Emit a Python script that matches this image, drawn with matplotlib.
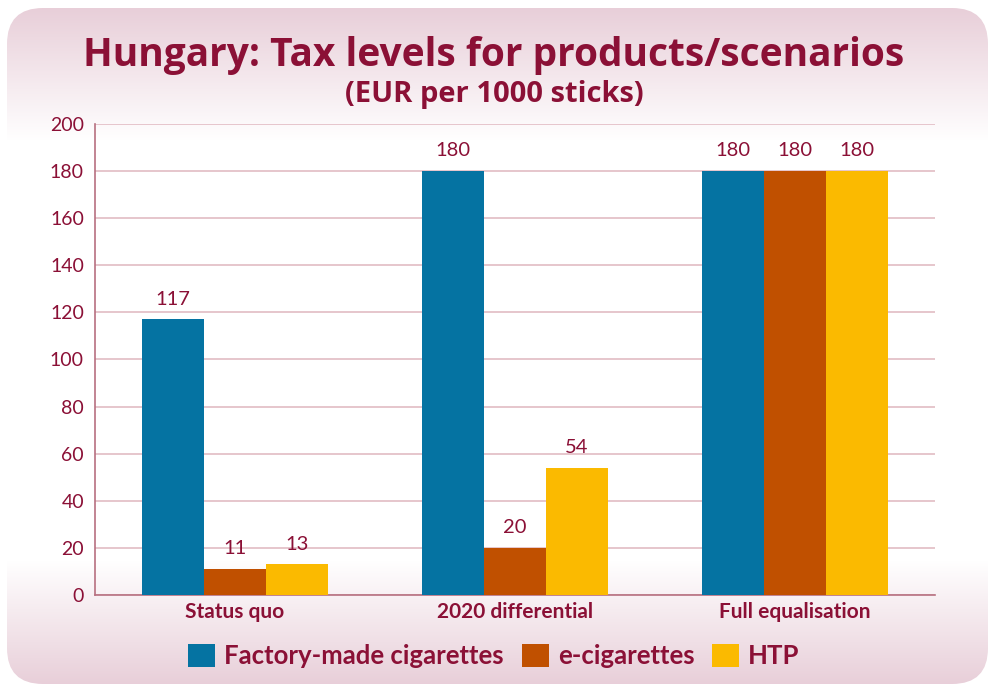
import numpy as np
import matplotlib.pyplot as plt
from matplotlib.patches import FancyBboxPatch, Patch

plt.rcParams['font.family'] = ['Lato', 'DejaVu Sans']

categories = ['Status quo', '2020 differential', 'Full equalisation']
series = ['Factory-made cigarettes', 'e-cigarettes', 'HTP']
fmc = [117, 180, 180]
ecig = [11, 20, 180]
htp = [13, 54, 180]
yticks = [0, 20, 40, 60, 80, 100, 120, 140, 160, 180, 200]

colors = ['#0573A2', '#C05000', '#FBBA00']
txt = '#8B1036'

fig = plt.figure(figsize=(9.88, 6.84), dpi=100)

# rounded background panel, pink at top and bottom, white in the middle
bg = fig.add_axes([0, 0, 1, 1], zorder=-10)
bg.set_xlim(0, 988)
bg.set_ylim(684, 0)
bg.axis('off')
s = np.arange(684)
p = np.maximum(np.clip((140 - s) / 132, 0, 1), np.clip((s - 560) / 124, 0, 1))
c_edge = np.array([0.91, 0.81, 0.85])
img = 1 + (c_edge - 1)[None, :] * p[:, None]
img = np.repeat(img[:, None, :], 2, axis=1)
im = bg.imshow(img, extent=[0, 988, 684, 0], origin='upper', aspect='auto')
panel = FancyBboxPatch((7, 8), 981, 676, boxstyle='round,pad=0,rounding_size=36',
                       transform=bg.transData, facecolor='none', edgecolor='none')
bg.add_patch(panel)
im.set_clip_path(panel)

ax = fig.add_axes([0.0962, 0.130, 0.850, 0.689])
ax.set_facecolor('none')
x = np.arange(len(categories))
w = 0.221
for i, (vals, col) in enumerate(zip([fmc, ecig, htp], colors)):
    pos = x + (i - 1) * w
    ax.bar(pos, vals, w, color=col, zorder=3)
    for px, v in zip(pos, vals):
        ax.text(px, v + 5, str(v), ha='center', va='bottom', color=txt, fontsize=14.5)

ax.set_xlim(-0.5, 2.5)
ax.set_ylim(0, 200)
ax.set_yticks(yticks)
ax.set_xticks(x)
ax.set_xticklabels(categories, fontweight='bold', fontsize=15, color=txt)
ax.tick_params(axis='y', length=0, labelsize=14, labelcolor=txt, pad=8)
ax.tick_params(axis='x', length=0, pad=5)
ax.grid(axis='y', color='#E2BCC4', linewidth=1.2, zorder=0)
for sp in ['top', 'right']:
    ax.spines[sp].set_visible(False)
for sp in ['left', 'bottom']:
    ax.spines[sp].set_color('#B77080')
    ax.spines[sp].set_linewidth(1.2)

fig.text(0.5, 0.919, 'Hungary: Tax levels for products/scenarios', ha='center', va='center',
         fontsize=28, fontweight='bold', color=txt, family='Open Sans')
fig.text(0.5, 0.862, '(EUR per 1000 sticks)', ha='center', va='center',
         fontsize=21, fontweight='bold', color=txt, family='Open Sans')

handles = [Patch(facecolor=c) for c in colors]
leg = fig.legend(handles, series, loc='center', bbox_to_anchor=(0.5, 0.041), ncol=3,
                 frameon=False, fontsize=18.5, handlelength=1.05, handleheight=1.05,
                 handletextpad=0.35, columnspacing=0.7)
for tx in leg.get_texts():
    tx.set_color(txt)
    tx.set_fontweight('bold')

fig.savefig('out.png', dpi=100)
